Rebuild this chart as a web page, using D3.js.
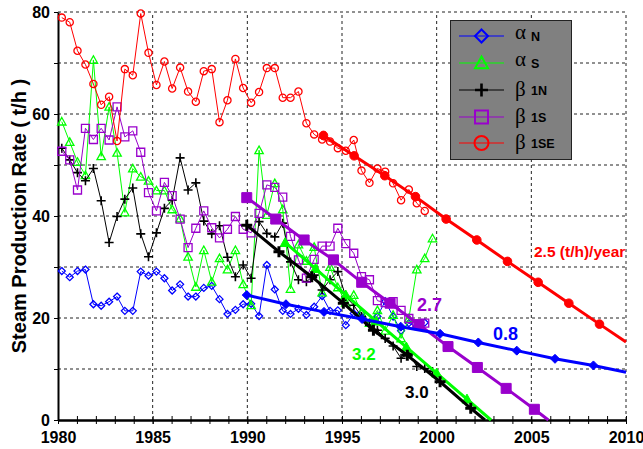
<!DOCTYPE html>
<html>
<head>
<meta charset="utf-8">
<script src="https://cdn.jsdelivr.net/npm/d3@7"></script>
<style>
  body { margin: 0; background: #fff; }
  text { font-family: Arial, "Liberation Sans", sans-serif; font-weight: bold; }
</style>
</head>
<body>
<script>
"use strict";

let width = 643;
let height = 449;

// sampling dates, decimal years
let dates = [1980.20, 1980.62, 1981.03, 1981.45, 1981.87, 1982.28, 1982.70, 1983.12, 1983.53, 1983.95,
  1984.37, 1984.78, 1985.20, 1985.62, 1986.03, 1986.45, 1986.87, 1987.28, 1987.70, 1988.12,
  1988.53, 1988.95, 1989.37, 1989.78, 1990.20, 1990.62, 1991.03, 1991.45, 1991.87, 1992.28,
  1992.70, 1993.12, 1993.53, 1993.95, 1994.37, 1994.78, 1995.20, 1995.62, 1996.03, 1996.45,
  1996.87, 1997.28, 1997.70, 1998.12, 1998.53, 1998.95, 1999.37, 1999.78];

let alphaN = [29.2, 28.0, 29.2, 29.5, 22.7, 22.4, 23.2, 24.2, 21.4, 21.4,
  29.1, 28.3, 29.1, 27.8, 25.4, 26.6, 24.2, 24.2, 25.9, 26.3,
  23.7, 20.8, 21.6, 22.7, 22.8, 20.4, 30.4, 25.6, 21.4, 20.8,
  21.8, 20.6, 22.2, 24.3, 21.4, 21.5, 18.6, 20.9, 21.0, 19.0,
  20.3, 23.3, 20.3, 17.5, 19.0, 18.3, 19.1, null];

let alphaS = [58.5, 54.5, 50.6, 48.0, 70.6, 51.7, 61.4, 52.4, 40.7, 49.3,
  47.7, 46.9, 45.0, 45.0, 41.3, 39.5, 32.0, 26.1, 33.3, 27.1,
  31.7, 29.5, 33.3, 26.6, 22.5, 52.9, 40.2, 46.4, 41.3, 25.7,
  34.4, 31.2, 33.9, 25.0, 30.0, 26.0, 23.0, 24.5, 21.0, 19.0,
  21.5, 17.5, 20.6, 16.0, 19.9, 29.5, 31.7, 35.6];

let beta1N = [53.3, 51.0, 48.5, 46.9, 49.3, 43.0, 34.8, 39.9, 43.3, 45.5,
  36.5, 32.0, 36.7, 41.5, 43.1, 51.4, 45.1, 46.5, 39.0, 36.5,
  38.1, 31.9, 28.1, 30.4, 27.8, 38.9, 36.6, 35.9, 38.6, 31.0,
  27.5, 27.1, 28.4, 25.5, 27.5, 29.1, 24.2, 22.5, 20.3, 18.6,
  17.6, 16.0, 14.5, 12.1, 13.1, 10.5, 10.1, 9.5];

let beta1S = [52.7, 51.0, 45.1, 57.2, 55.0, 57.2, 54.9, 61.4, 55.5, 56.7,
  52.5, 44.6, 41.0, 46.6, 44.0, 39.4, 33.8, 37.6, 41.0, 37.7,
  35.7, 37.4, 39.9, 37.4, 36.7, 40.5, 46.1, 45.6, 43.7, 36.0,
  31.4, 27.8, 31.5, 34.1, 34.1, 37.6, 34.6, 32.7, 28.1, 27.5,
  23.4, 23.0, 23.2, 21.5, 19.9, 18.8, 19.0, null];

let beta1SE = [78.9, 78.0, 72.4, 69.7, 65.9, 61.8, 63.4, 54.7, 68.8, 67.6,
  79.7, 72.0, 65.7, 70.3, 65.0, 69.1, 64.4, 62.4, 68.4, 68.8,
  58.4, 62.7, 70.8, 65.1, 62.2, 64.3, 69.0, 69.0, 63.2, 63.2,
  64.4, 58.2, 56.0, 55.0, 54.6, 53.3, 52.8, 54.9, 48.9, 46.5,
  49.3, 48.7, 46.4, 43.1, 45.2, 42.5, 41.0, null];

// decline trend lines [year, rate]
let fitSE = [[1994.02, 55.8], [1995.64, 51.8], [1997.26, 47.9], [1998.88, 43.8], [2000.5, 39.4],
  [2002.12, 35.3], [2003.74, 31.1], [2005.36, 27.0], [2006.98, 22.9], [2008.6, 18.8], [2010, 15.3]];
let fit1S = [[1989.97, 43.6], [1991.5, 39.4], [1993.0, 35.3], [1994.55, 31.4], [1996.04, 27.0],
  [1997.54, 22.9], [1999.07, 18.7], [2000.6, 14.4], [2002.15, 10.3], [2003.67, 6.2], [2005.16, 2.1], [2005.9, 0]];
let fitS = [[1992.0, 34.8], [1993.6, 29.7], [1995.2, 24.5], [1996.8, 19.4], [1998.4, 14.3],
  [2000.0, 9.2], [2001.6, 4.1], [2002.87, 0]];
let fit1N = [[1989.97, 38.2], [1991.67, 33.0], [1993.4, 28.1], [1995.07, 22.9], [1996.66, 17.6],
  [1998.45, 12.7], [2000.18, 7.5], [2001.8, 2.3], [2002.55, 0]];
let fitN = [[1989.97, 24.5], [1992.04, 22.7], [1994.05, 21.2], [1996.06, 19.8], [1998.1, 18.3],
  [2000.18, 16.9], [2002.2, 15.2], [2004.23, 13.6], [2006.25, 12.0], [2008.28, 10.7], [2010, 9.35]];

let yTicks = [0, 10, 20, 30, 40, 50, 60, 70, 80];
let xTicks = [1980, 1985, 1990, 1995, 2000, 2005, 2010];

let svg = d3.select("body").append("svg").attr("width", width).attr("height", height);

let x = d3.scaleLinear().domain([1980, 2010]).range([58, 626]);
let y = d3.scaleLinear().domain([0, 80]).range([420, 12]);

function markerPath(type, s) {
  if (type == "diamond") return `M0,${-s}L${s},0L0,${s}L${-s},0Z`;
  if (type == "triangle") return `M0,${-s}L${s},${s * 0.8}L${-s},${s * 0.8}Z`;
  if (type == "square") return `M${-s},${-s}H${s}V${s}H${-s}Z`;
  if (type == "plus") return `M${-s},0H${s}M0,${-s}V${s}`;
  return `M${-s},0a${s},${s} 0 1,0 ${2 * s},0a${s},${s} 0 1,0 ${-2 * s},0Z`;
}

// grid
let grid = svg.append("g");
grid.selectAll(".hg")
  .data(yTicks.slice(1))
  .enter()
  .append("line")
  .attr("x1", x(1980)).attr("x2", x(2010))
  .attr("y1", d => y(d)).attr("y2", d => y(d))
  .attr("stroke", "#222").attr("stroke-dasharray", "3,3");
grid.selectAll(".vg")
  .data(xTicks.slice(1))
  .enter()
  .append("line")
  .attr("x1", d => x(d)).attr("x2", d => x(d))
  .attr("y1", y(0)).attr("y2", y(80))
  .attr("stroke", "#222").attr("stroke-dasharray", "3,3");

// axes
let yAxis = svg.append("g")
  .attr("transform", `translate(${x(1980)},0)`)
  .call(d3.axisLeft(y).tickValues(yTicks).tickSize(4).tickSizeOuter(0).tickPadding(4)
    .tickFormat(d => d % 20 == 0 ? d : ""));
yAxis.selectAll("text").style("font-size", "16px").style("font-family", "Arial");

let minorAxis = svg.append("g")
  .attr("transform", `translate(0,${y(0)})`)
  .call(d3.axisBottom(x).tickValues(d3.range(1980, 2011)).tickSize(4).tickSizeOuter(0).tickFormat(""));
minorAxis.selectAll(".tick line").attr("y1", -4);

let xAxis = svg.append("g")
  .attr("transform", `translate(0,${y(0)})`)
  .call(d3.axisBottom(x).tickValues(xTicks).tickSize(4).tickSizeOuter(0).tickPadding(8).tickFormat(d3.format("d")));
xAxis.selectAll("text").style("font-size", "16px").style("font-family", "Arial");

svg.selectAll(".domain").attr("stroke", "#000").attr("stroke-width", 2);
svg.selectAll(".tick line").attr("stroke", "#000").attr("stroke-width", 1);

svg.append("text")
  .attr("transform", "translate(26,216) rotate(-90)")
  .attr("text-anchor", "middle")
  .style("font-size", "20px")
  .text("Steam Production Rate ( t/h )");

let series = [
  { values: alphaN, color: "#0000FF", marker: "diamond", s: 3.5, fit: fitN, fs: 4.5 },
  { values: alphaS, color: "#00FF00", marker: "triangle", s: 4.2, fit: fitS, fs: 5 },
  { values: beta1N, color: "#000000", marker: "plus", s: 4.5, fit: fit1N, fs: 5.5 },
  { values: beta1S, color: "#9900CC", marker: "square", s: 4, fit: fit1S, fs: 5 },
  { values: beta1SE, color: "#FF0000", marker: "circle", s: 3.6, fit: fitSE, fs: 4.3 }
];

let line = d3.line()
  .defined(d => d[1] != null)
  .x(d => x(d[0]))
  .y(d => y(d[1]));

// measured series
series.forEach(function (sr) {
  let pts = dates.map((t, i) => [t, sr.values[i]]);
  let g = svg.append("g");
  g.append("path")
    .attr("d", line(pts))
    .attr("fill", "none")
    .attr("stroke", sr.color)
    .attr("stroke-width", 1);
  g.selectAll("path.m")
    .data(pts.filter(d => d[1] != null))
    .enter()
    .append("path")
    .attr("class", "m")
    .attr("transform", d => `translate(${x(d[0])},${y(d[1])})`)
    .attr("d", markerPath(sr.marker, sr.s))
    .attr("fill", "none")
    .attr("stroke", sr.color)
    .attr("stroke-width", sr.marker == "plus" ? 1.6 : 1.3);
});

// trend lines
[4, 3, 1, 2, 0].forEach(function (k) {
  let sr = series[k];
  let g = svg.append("g");
  g.append("path")
    .attr("d", line(sr.fit))
    .attr("fill", "none")
    .attr("stroke", sr.color)
    .attr("stroke-width", 3);
  g.selectAll("path.f")
    .data(sr.fit.slice(0, -1))
    .enter()
    .append("path")
    .attr("class", "f")
    .attr("transform", d => `translate(${x(d[0])},${y(d[1])})`)
    .attr("d", markerPath(sr.marker, sr.fs))
    .attr("fill", sr.marker == "plus" ? "none" : sr.color)
    .attr("stroke", sr.color)
    .attr("stroke-width", sr.marker == "plus" ? 3 : 1);
});

// rate labels
let labels = [
  { text: "2.5 (t/h)/year", x: 534, y: 257, color: "#FF0000", size: 15.5 },
  { text: "2.7", x: 417, y: 311, color: "#9900CC", size: 18 },
  { text: "0.8", x: 493, y: 340, color: "#0000FF", size: 18 },
  { text: "3.2", x: 352, y: 360, color: "#00FF00", size: 17 },
  { text: "3.0", x: 405, y: 398, color: "#000000", size: 17 }
];
svg.selectAll(".lab")
  .data(labels)
  .enter()
  .append("text")
  .attr("x", d => d.x)
  .attr("y", d => d.y)
  .attr("fill", d => d.color)
  .style("font-size", d => d.size + "px")
  .text(d => d.text);

// legend
let legendItems = [
  { greek: "\u03b1", sub: "N", k: 0, yy: 36 },
  { greek: "\u03b1", sub: "S", k: 1, yy: 63 },
  { greek: "\u03b2", sub: "1N", k: 2, yy: 90 },
  { greek: "\u03b2", sub: "1S", k: 3, yy: 117 },
  { greek: "\u03b2", sub: "1SE", k: 4, yy: 143 }
];
let legend = svg.append("g");
legend.append("rect")
  .attr("x", 450.5).attr("y", 20.5)
  .attr("width", 121).attr("height", 139)
  .attr("fill", "#808080")
  .attr("stroke", "#222")
  .attr("stroke-width", 1);
legendItems.forEach(function (it) {
  let sr = series[it.k];
  legend.append("line")
    .attr("x1", 459).attr("x2", 504)
    .attr("y1", it.yy).attr("y2", it.yy)
    .attr("stroke", sr.color).attr("stroke-width", 1);
  legend.append("path")
    .attr("transform", `translate(481.5,${it.yy})`)
    .attr("d", markerPath(sr.marker, sr.marker == "circle" ? 7 : 6.5))
    .attr("fill", "none")
    .attr("stroke", sr.color)
    .attr("stroke-width", sr.marker == "plus" ? 2.6 : 2);
  legend.append("text")
    .attr("x", 515).attr("y", it.yy + (it.greek == "\u03b1" ? 3 : 6))
    .style("font-family", "'Liberation Serif', serif")
    .style("font-weight", "normal")
    .style("font-size", "21px")
    .text(it.greek);
  legend.append("text")
    .attr("x", 531).attr("y", it.yy + 5)
    .style("font-size", "12.5px")
    .text(it.sub);
});
</script>
</body>
</html>
